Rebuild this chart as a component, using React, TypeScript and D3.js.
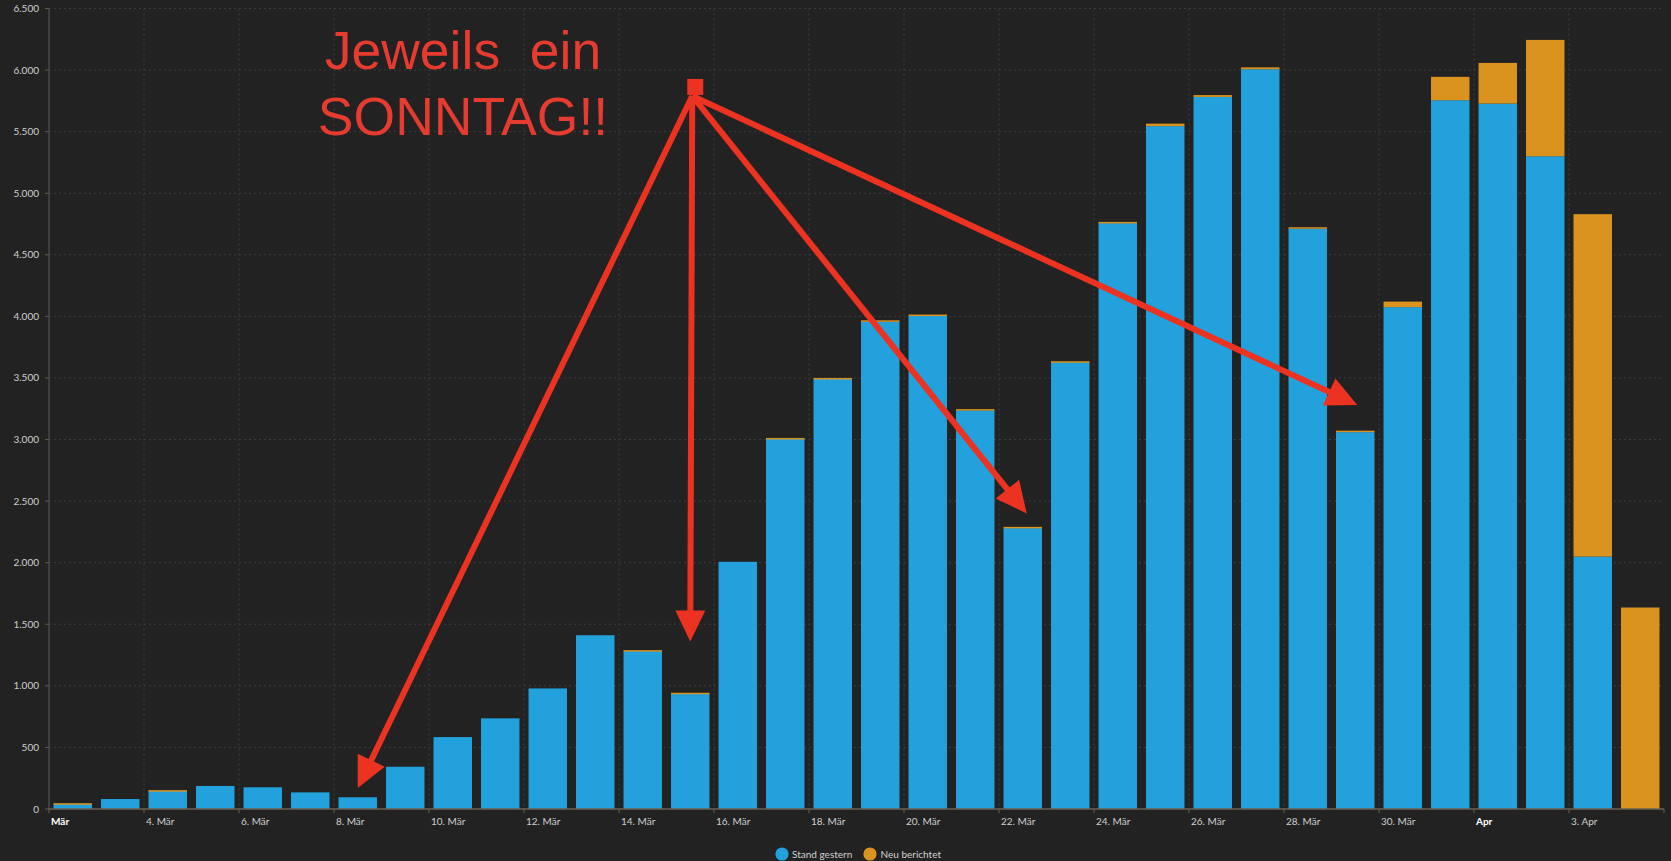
import React, { useMemo } from "react";
import * as d3 from "d3";

const WIDTH = 1671;
const HEIGHT = 861;
const LEFT = 49;
const RIGHT = 1664;
const TOP = 8.5;
const BOTTOM = 809;

const BG = "#222222";
const BLUE = "#22a1dc";
const ORANGE = "#da931f";
const RED = "#ec3322";

// one entry per day, 2. März bis 4. April 2020
const days = [
  "2020-03-02", "2020-03-03", "2020-03-04", "2020-03-05", "2020-03-06", "2020-03-07",
  "2020-03-08", "2020-03-09", "2020-03-10", "2020-03-11", "2020-03-12", "2020-03-13",
  "2020-03-14", "2020-03-15", "2020-03-16", "2020-03-17", "2020-03-18", "2020-03-19",
  "2020-03-20", "2020-03-21", "2020-03-22", "2020-03-23", "2020-03-24", "2020-03-25",
  "2020-03-26", "2020-03-27", "2020-03-28", "2020-03-29", "2020-03-30", "2020-03-31",
  "2020-04-01", "2020-04-02", "2020-04-03", "2020-04-04",
];

const standGestern = [
  42, 81, 148, 187, 176, 135, 95, 343, 584, 736, 979, 1411,
  1282, 936, 2007, 3005, 3492, 3958, 4005, 3237, 2281, 3628, 4757, 5545,
  5782, 6007, 4712, 3060, 4075, 5755, 5728, 5300, 2050, 0,
];

const neuBerichtet = [
  5, 0, 5, 0, 0, 0, 0, 0, 0, 0, 0, 0,
  8, 8, 0, 8, 8, 10, 10, 10, 10, 8, 10, 20,
  15, 15, 12, 12, 45, 190, 330, 945, 2780, 1636,
];

// x-axis ticks (every other day) and their labels
const tickDays = [
  "2020-03-02", "2020-03-04", "2020-03-06", "2020-03-08", "2020-03-10", "2020-03-12",
  "2020-03-14", "2020-03-16", "2020-03-18", "2020-03-20", "2020-03-22", "2020-03-24",
  "2020-03-26", "2020-03-28", "2020-03-30", "2020-04-01", "2020-04-03",
];
const tickLabels = [
  "Mär", "4. Mär", "6. Mär", "8. Mär", "10. Mär", "12. Mär", "14. Mär", "16. Mär",
  "18. Mär", "20. Mär", "22. Mär", "24. Mär", "26. Mär", "28. Mär", "30. Mär", "Apr", "3. Apr",
];
const boldTicks = ["Mär", "Apr"];

const yTicks = [0, 500, 1000, 1500, 2000, 2500, 3000, 3500, 4000, 4500, 5000, 5500, 6000, 6500];

const seriesNames = ["Stand gestern", "Neu berichtet"];
const seriesColors = [BLUE, ORANGE];

// annotation: arrows from one point to each Sunday
const arrowOrigin = { day: "2020-03-15", value: 5790 };
const arrowTargets = [
  { day: "2020-03-08", value: 170, dx: 0 },
  { day: "2020-03-15", value: 1360, dx: 0 },
  { day: "2020-03-22", value: 2400, dx: 4 },
  { day: "2020-03-29", value: 3280, dx: 2 },
];
const noteLines = ["Jeweils  ein", "SONNTAG!!"];

const de = d3.formatLocale({ decimal: ",", thousands: ".", grouping: [3], currency: ["", " €"] });
const fmt = de.format(",.0f");

function arrowShape(x1: number, y1: number, x2: number, y2: number, headLen = 31, headW = 30) {
  const a = Math.atan2(y2 - y1, x2 - x1);
  const bx = x2 - Math.cos(a) * headLen;
  const by = y2 - Math.sin(a) * headLen;
  const nx = -Math.sin(a) * (headW / 2);
  const ny = Math.cos(a) * (headW / 2);
  return {
    line: [bx + Math.cos(a) * 2, by + Math.sin(a) * 2],
    head: `${x2},${y2} ${bx + nx},${by + ny} ${bx - nx},${by - ny}`,
  };
}

export default function App() {
  const x = useMemo(
    () => d3.scaleBand<string>().domain(days).range([LEFT, RIGHT]).paddingInner(0.19).paddingOuter(0.095),
    []
  );
  const y = useMemo(() => d3.scaleLinear().domain([0, 6500]).range([BOTTOM, TOP]), []);

  const rows = days.map((d, i) => ({ day: d, stand: standGestern[i], neu: neuBerichtet[i] }));
  const stacked = d3.stack<any>().keys(["stand", "neu"])(rows);

  const step = x.step();
  const slotStart = (d: string) => (x(d) as number) - (step * x.paddingInner()) / 2;
  const center = (d: string) => (x(d) as number) + x.bandwidth() / 2;

  const ox = center(arrowOrigin.day) + 2;
  const oy = y(arrowOrigin.value);

  return (
    <div style={{ position: "absolute", left: 0, top: 0 }}>
      <svg width={WIDTH} height={HEIGHT} style={{ display: "block", background: BG }}>
        <rect width={WIDTH} height={HEIGHT} fill={BG} />

        {/* grid */}
        <g stroke="#3d3d3d" strokeWidth={1} strokeDasharray="2,3">
          {yTicks.map((t) =>
            t === 0 ? null : <line key={t} x1={LEFT} x2={RIGHT} y1={y(t)} y2={y(t)} />
          )}
          {tickDays.slice(1).map((d) => (
            <line key={d} x1={slotStart(d)} x2={slotStart(d)} y1={TOP} y2={BOTTOM} />
          ))}
        </g>

        {/* bars */}
        {stacked.map((layer, li) => (
          <g key={layer.key} fill={seriesColors[li]}>
            {layer.map((seg, i) => {
              const h = y(seg[0]) - y(seg[1]);
              if (h <= 0) return null;
              return (
                <rect
                  key={i}
                  x={x(days[i])}
                  y={y(seg[1])}
                  width={x.bandwidth()}
                  height={Math.max(h, li === 1 ? 1.5 : 0)}
                />
              );
            })}
          </g>
        ))}

        {/* axes */}
        <line x1={LEFT} x2={LEFT} y1={TOP} y2={BOTTOM} stroke="#5a5a5a" />
        <line x1={LEFT} x2={RIGHT} y1={BOTTOM} y2={BOTTOM} stroke="#6b6152" strokeWidth={1.5} />
        {yTicks.map((t) => (
          <g key={t}>
            <line x1={LEFT - 4} x2={LEFT} y1={y(t)} y2={y(t)} stroke="#5a5a5a" />
            <text
              x={39}
              y={y(t)}
              dy="0.35em"
              textAnchor="end"
              fontFamily="Lato, 'Open Sans', sans-serif"
              fontSize={10}
              fill="#cfcfcf"
            >
              {fmt(t)}
            </text>
          </g>
        ))}
        {tickDays.map((d, i) => {
          const tx = slotStart(d);
          const bold = boldTicks.includes(tickLabels[i]);
          return (
            <g key={d}>
              <line x1={tx} x2={tx} y1={BOTTOM} y2={BOTTOM + 4} stroke="#6b6152" />
              <text
                x={tx + 2}
                y={BOTTOM + 16}
                fontFamily="Lato, 'Open Sans', sans-serif"
                fontSize={10}
                fontWeight={bold ? 700 : 400}
                fill={bold ? "#ffffff" : "#cfcfcf"}
              >
                {tickLabels[i]}
              </text>
            </g>
          );
        })}
        <line x1={RIGHT} x2={RIGHT} y1={BOTTOM} y2={BOTTOM + 4} stroke="#6b6152" />

        {/* legend */}
        <g fontFamily="Lato, 'Open Sans', sans-serif" fontSize={10} fill="#cfcfcf">
          <circle cx={782} cy={854} r={6.6} fill={seriesColors[0]} />
          <text x={792} y={857.5}>{seriesNames[0]}</text>
          <circle cx={870} cy={854} r={6.6} fill={seriesColors[1]} />
          <text x={880.5} y={857.5}>{seriesNames[1]}</text>
        </g>

        {/* annotation */}
        <g fill={RED} stroke={RED}>
          {arrowTargets.map((t) => {
            const tx = center(t.day) + t.dx;
            const ty = y(t.value);
            const s = arrowShape(ox, oy, tx, ty);
            return (
              <g key={t.day}>
                <line x1={ox} y1={oy} x2={s.line[0]} y2={s.line[1]} strokeWidth={6} />
                <polygon points={s.head} stroke="none" />
              </g>
            );
          })}
          <rect x={ox - 5} y={oy - 17} width={16} height={16} stroke="none" />
        </g>
        <g
          fontFamily="'Liberation Sans', Arial, sans-serif"
          fontSize={53.5}
          fill="#e53b30"
          textAnchor="middle"
          style={{ whiteSpace: "pre" }}
        >
          <text x={463} y={69} xmlSpace="preserve">{noteLines[0]}</text>
          <text x={463} y={134.5} xmlSpace="preserve">{noteLines[1]}</text>
        </g>
      </svg>
    </div>
  );
}
